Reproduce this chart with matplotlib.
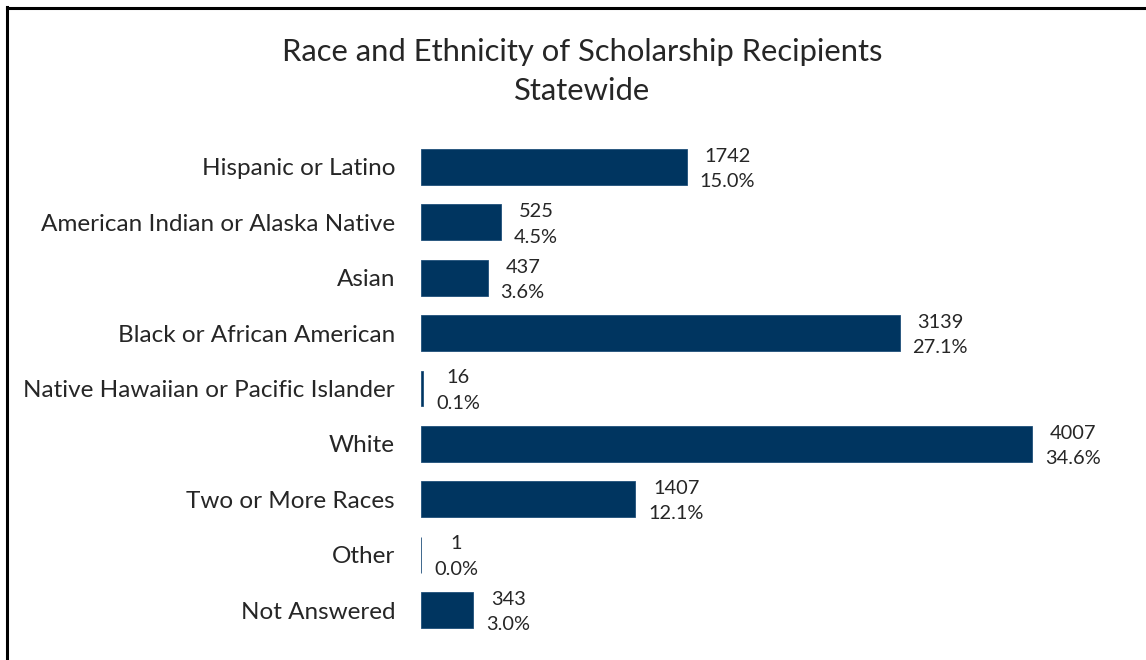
import matplotlib
matplotlib.use("Agg")
import matplotlib.pyplot as plt
from matplotlib.lines import Line2D

categories = ["Hispanic or Latino", "American Indian or Alaska Native", "Asian",
              "Black or African American", "Native Hawaiian or Pacific Islander",
              "White", "Two or More Races", "Other", "Not Answered"]
counts = [1742, 525, 437, 3139, 16, 4007, 1407, 1, 343]
percents = ["15.0%", "4.5%", "3.6%", "27.1%", "0.1%", "34.6%", "12.1%", "0.0%", "3.0%"]

plt.rcParams['font.family'] = ['Lato', 'DejaVu Sans']
W, H = 1146, 660
fig = plt.figure(figsize=(W / 100, H / 100), dpi=100)
fig.patch.set_facecolor('white')

left, right = 421 / W, 1107 / W
top, bottom = 1 - 139.3 / H, 1 - 637.7 / H
ax = fig.add_axes([left, bottom, right - left, top - bottom])

bar_color = '#003560'
text_color = '#262626'
y = list(range(len(categories)))
ax.barh(y, counts, height=0.65, color=bar_color, edgecolor='#1f4f7a', linewidth=0.6)
ax.set_xlim(0, 4500)
ax.set_ylim(len(categories) - 0.5, -0.5)

ax.set_yticks(y)
ax.set_yticklabels(categories, fontsize=17.5, color=text_color)
ax.tick_params(axis='y', length=0, pad=18.7)
ax.set_xticks([])
for s in ax.spines.values():
    s.set_visible(False)

for yi, c, p in zip(y, counts, percents):
    ax.annotate(f"{c}\n{p}", xy=(c, yi), xytext=(13, -2), textcoords='offset pixels',
                ha='left', va='center', multialignment='center', fontsize=14.4, color=text_color,
                linespacing=1.6)

fig.text(582 / W, 1 - 52 / H, "Race and Ethnicity of Scholarship Recipients",
         ha='center', va='center', fontsize=22.3, color=text_color)
fig.text(582 / W, 1 - 91 / H, "Statewide",
         ha='center', va='center', fontsize=22.3, color=text_color)

# frame (top and left edges visible)
fig.add_artist(Line2D([7 / W, 7 / W], [0, 1 - 7 / H], transform=fig.transFigure, color='black', linewidth=2.2))
fig.add_artist(Line2D([7 / W, 1], [1 - 8 / H, 1 - 8 / H], transform=fig.transFigure, color='black', linewidth=2.2))

fig.savefig("out.png", dpi=100, facecolor='white')
